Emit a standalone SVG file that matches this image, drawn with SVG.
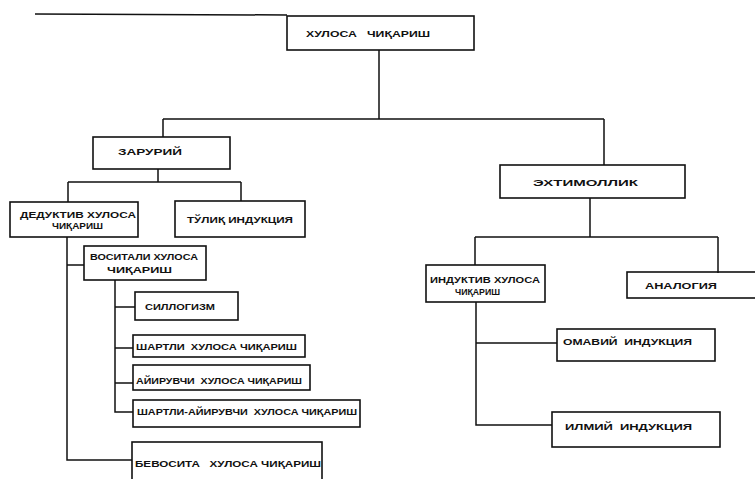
<svg xmlns="http://www.w3.org/2000/svg" width="755" height="479" viewBox="0 0 755 479">
<style>
.box{fill:none;stroke:#111;stroke-width:1.6}
.ln{fill:none;stroke:#111;stroke-width:1.5}
text{font-family:"Liberation Sans","DejaVu Sans",sans-serif;font-weight:bold;font-size:8.5px;fill:#111;white-space:pre}
</style>
<rect width="755" height="479" fill="#fff"/>
<g id="connectors">
<path class="ln" d="M35 14 L287 15"/>
<path class="ln" d="M379 50 V119 M163 119 H604 M163 119 V137 M604 119 V165"/>
<path class="ln" d="M158 169 V182 M68 182 H241 M68 182 V202 M241 182 V201"/>
<path class="ln" d="M67 237 V460 H132 M67 265 H84"/>
<path class="ln" d="M115 280 V412 H133 M115 307 H135 M115 348 H133 M115 383 H133"/>
<path class="ln" d="M590 198 V237 M475 237 H718 M475 237 V265 M718 237 V273"/>
<path class="ln" d="M476 302 V425 H552 M476 343 H557"/>
</g>
<g id="n-root"><rect class="box" x="287" y="16" width="187" height="34"/><text x="306" y="37" textLength="124" lengthAdjust="spacingAndGlyphs" xml:space="preserve">ХУЛОСА   ЧИҚАРИШ</text></g>
<g id="n-zaruriy"><rect class="box" x="93" y="137" width="137" height="32"/><text x="118" y="155" textLength="64" lengthAdjust="spacingAndGlyphs">ЗАРУРИЙ</text></g>
<g id="n-ehtimollik"><rect class="box" x="500" y="165" width="185" height="33"/><text x="533" y="186" textLength="105" lengthAdjust="spacingAndGlyphs">ЭХТИМОЛЛИК</text></g>
<g id="n-deduktiv"><rect class="box" x="10" y="202" width="128" height="35"/><text x="20" y="218" textLength="116" lengthAdjust="spacingAndGlyphs">ДЕДУКТИВ ХУЛОСА</text><text x="52" y="229" textLength="51" lengthAdjust="spacingAndGlyphs">ЧИҚАРИШ</text></g>
<g id="n-toliq"><rect class="box" x="175" y="201" width="130" height="36"/><text x="187" y="223" textLength="106" lengthAdjust="spacingAndGlyphs">ТЎЛИҚ ИНДУКЦИЯ</text></g>
<g id="n-vositali"><rect class="box" x="84" y="246" width="122" height="34"/><text x="90" y="260" textLength="108" lengthAdjust="spacingAndGlyphs">ВОСИТАЛИ ХУЛОСА</text><text x="107" y="273" textLength="65" lengthAdjust="spacingAndGlyphs">ЧИҚАРИШ</text></g>
<g id="n-sillogizm"><rect class="box" x="135" y="292" width="103" height="28"/><text x="145" y="310" textLength="70" lengthAdjust="spacingAndGlyphs">СИЛЛОГИЗМ</text></g>
<g id="n-shartli"><rect class="box" x="133" y="335" width="172" height="22"/><text x="136" y="350" textLength="161" lengthAdjust="spacingAndGlyphs" xml:space="preserve">ШАРТЛИ  ХУЛОСА ЧИҚАРИШ</text></g>
<g id="n-ayiruvchi"><rect class="box" x="133" y="365" width="177" height="25"/><text x="136" y="384" textLength="166" lengthAdjust="spacingAndGlyphs" xml:space="preserve">АЙИРУВЧИ  ХУЛОСА ЧИҚАРИШ</text></g>
<g id="n-shartli-ayiruvchi"><rect class="box" x="133" y="400" width="227" height="27"/><text x="137" y="415" textLength="220" lengthAdjust="spacingAndGlyphs" xml:space="preserve">ШАРТЛИ-АЙИРУВЧИ  ХУЛОСА ЧИҚАРИШ</text></g>
<g id="n-bevosita"><rect class="box" x="132" y="442" width="190" height="42"/><text x="135" y="467" textLength="186" lengthAdjust="spacingAndGlyphs" xml:space="preserve">БЕВОСИТА   ХУЛОСА ЧИҚАРИШ</text></g>
<g id="n-induktiv"><rect class="box" x="426" y="265" width="119" height="37"/><text x="430" y="283" textLength="110" lengthAdjust="spacingAndGlyphs">ИНДУКТИВ ХУЛОСА</text><text x="455" y="295" textLength="45" lengthAdjust="spacingAndGlyphs">ЧИҚАРИШ</text></g>
<g id="n-analogiya"><rect class="box" x="627" y="272" width="140" height="26"/><text x="645" y="289" textLength="72" lengthAdjust="spacingAndGlyphs">АНАЛОГИЯ</text></g>
<g id="n-ommaviy"><rect class="box" x="557" y="329" width="158" height="32"/><text x="563" y="345" textLength="129" lengthAdjust="spacingAndGlyphs" xml:space="preserve">ОМАВИЙ  ИНДУКЦИЯ</text></g>
<g id="n-ilmiy"><rect class="box" x="552" y="412" width="168" height="35"/><text x="565" y="430" textLength="127" lengthAdjust="spacingAndGlyphs" xml:space="preserve">ИЛМИЙ  ИНДУКЦИЯ</text></g>
</svg>
